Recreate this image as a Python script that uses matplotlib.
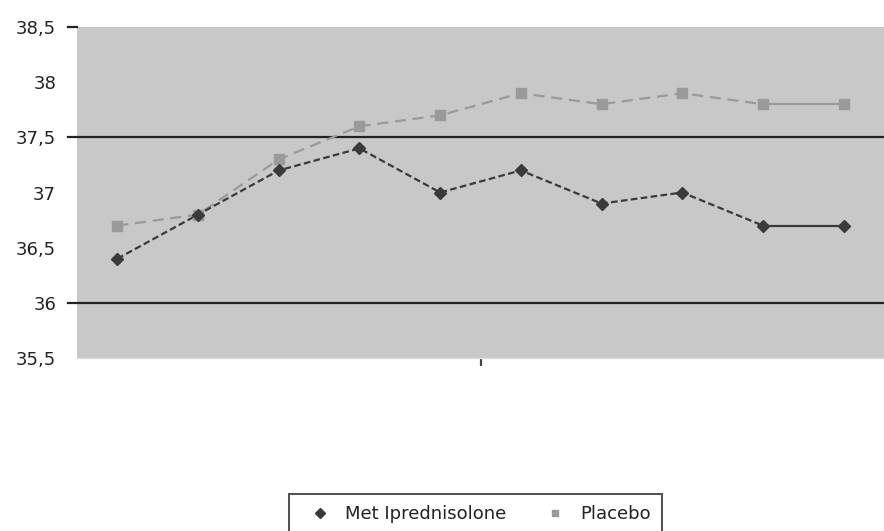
import matplotlib
matplotlib.use("Agg")
import matplotlib.pyplot as plt
from matplotlib.lines import Line2D

categories = list(range(1, 11))
met = [36.4, 36.8, 37.2, 37.4, 37.0, 37.2, 36.9, 37.0, 36.7, 36.7]
placebo = [36.7, 36.8, 37.3, 37.6, 37.7, 37.9, 37.8, 37.9, 37.8, 37.8]
ytick_vals = [35.5, 36, 36.5, 37, 37.5, 38, 38.5]
ytick_labels = ["35,5", "36", "36,5", "37", "37,5", "38", "38,5"]

plt.rcParams['font.family'] = ['DejaVu Sans']

fig = plt.figure(figsize=(8.84, 5.31), dpi=100)
ax = fig.add_axes([77/884, 1-358/531, 1-77/884, (358-27)/531])
ax.set_facecolor('#c8c8c8')

x = list(range(len(categories)))
met_c = '#3a3a3a'
pla_c = '#9a9a9a'

ax.plot(x[:-1], met[:-1], color=met_c, lw=1.6, ls=(0, (3, 1.5)), zorder=3)
ax.plot(x[-2:], met[-2:], color=met_c, lw=1.6, ls='-', zorder=3)
ax.plot(x[:-1], placebo[:-1], color=pla_c, lw=1.6, ls=(0, (5, 3)), zorder=2)
ax.plot(x[-2:], placebo[-2:], color=pla_c, lw=1.6, ls='-', zorder=2)
ax.plot(x, met, ls='none', marker='D', ms=6, color=met_c, zorder=4)
ax.plot(x, placebo, ls='none', marker='s', ms=7, color=pla_c, zorder=3)

for g in [36, 37.5]:
    ax.axhline(g, color='#222222', lw=1.6, zorder=1)

ax.set_xlim(-0.5, len(categories) - 0.5)
ax.set_ylim(35.5, 38.5)
ax.set_yticks(ytick_vals)
ax.set_yticklabels(ytick_labels, fontsize=13, color='#222222')
ax.tick_params(axis='y', length=0, pad=15)
for yv in [36, 37.5, 38.5]:
    ax.plot([-0.5 - 0.11, -0.5], [yv, yv], color='#222222', lw=1.6, clip_on=False, zorder=5)

ax.set_xticks([4.5])
ax.set_xticklabels([''])
ax.tick_params(axis='x', length=6, width=1.6, color='#444444', direction='out')

for s in ['left', 'right', 'top']:
    ax.spines[s].set_visible(False)
ax.spines['bottom'].set_color('#dddddd')
ax.spines['bottom'].set_linewidth(1.0)

handles = [
    Line2D([], [], ls='none', marker='D', ms=5, color=met_c),
    Line2D([], [], ls='none', marker='s', ms=5, color=pla_c),
]
leg = fig.legend(handles, ['Met Iprednisolone', 'Placebo'], loc='upper left',
                 bbox_to_anchor=(289/884, 1-494/531), ncol=2, fontsize=13,
                 frameon=True, fancybox=False, edgecolor='#222222',
                 borderpad=0.6, handlelength=2.2, handletextpad=0.3,
                 columnspacing=1.6, borderaxespad=0)
leg.get_frame().set_linewidth(1.4)
for t in leg.get_texts():
    t.set_color('#222222')

fig.savefig('out.png', dpi=100)
